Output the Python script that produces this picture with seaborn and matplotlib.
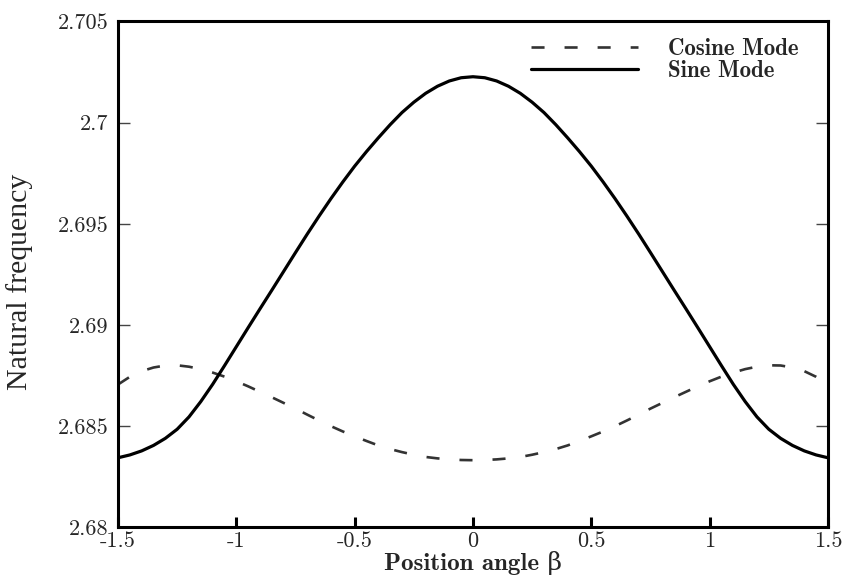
import matplotlib
matplotlib.use("Agg")
import matplotlib.pyplot as plt
import pandas as pd
import seaborn as sns
from matplotlib.font_manager import FontProperties

# Position angle samples
beta = [-1.50, -1.45, -1.40, -1.35, -1.30, -1.25, -1.20, -1.15, -1.10, -1.05,
        -1.00, -0.95, -0.90, -0.85, -0.80, -0.75, -0.70, -0.65, -0.60, -0.55,
        -0.50, -0.45, -0.40, -0.35, -0.30, -0.25, -0.20, -0.15, -0.10, -0.05,
        0.00, 0.05, 0.10, 0.15, 0.20, 0.25, 0.30, 0.35, 0.40, 0.45,
        0.50, 0.55, 0.60, 0.65, 0.70, 0.75, 0.80, 0.85, 0.90, 0.95,
        1.00, 1.05, 1.10, 1.15, 1.20, 1.25, 1.30, 1.35, 1.40, 1.45, 1.50]

# Natural frequency of the cosine mode
cosine_mode = [2.68706, 2.68744, 2.68772, 2.68790, 2.68800, 2.68801, 2.68794,
               2.68782, 2.68765, 2.68745, 2.68722, 2.68697, 2.68670, 2.68643,
               2.68615, 2.68587, 2.68557, 2.68528, 2.68500, 2.68474, 2.68450,
               2.68427, 2.68405, 2.68387, 2.68372, 2.68359, 2.68348, 2.68341,
               2.68336, 2.68333, 2.68332, 2.68333, 2.68336, 2.68341, 2.68348,
               2.68359, 2.68372, 2.68387, 2.68405, 2.68427, 2.68450, 2.68474,
               2.68500, 2.68528, 2.68557, 2.68587, 2.68615, 2.68643, 2.68670,
               2.68697, 2.68722, 2.68745, 2.68765, 2.68782, 2.68794, 2.68801,
               2.68800, 2.68790, 2.68772, 2.68744, 2.68706]

# Natural frequency of the sine mode
sine_mode = [2.68344, 2.68358, 2.68378, 2.68405, 2.68440, 2.68485, 2.68546,
             2.68622, 2.68707, 2.68799, 2.68893, 2.68987, 2.69080, 2.69172,
             2.69265, 2.69358, 2.69450, 2.69539, 2.69625, 2.69707, 2.69785,
             2.69857, 2.69925, 2.69990, 2.70050, 2.70101, 2.70145, 2.70180,
             2.70206, 2.70222, 2.70227, 2.70222, 2.70206, 2.70180, 2.70145,
             2.70101, 2.70050, 2.69990, 2.69925, 2.69857, 2.69785, 2.69707,
             2.69625, 2.69539, 2.69450, 2.69358, 2.69265, 2.69172, 2.69080,
             2.68987, 2.68893, 2.68799, 2.68707, 2.68622, 2.68546, 2.68485,
             2.68440, 2.68405, 2.68378, 2.68358, 2.68344]

xtick_values = [-1.5, -1.0, -0.5, 0.0, 0.5, 1.0, 1.5]
xtick_labels = ["-1.5", "-1", "-0.5", "0", "0.5", "1", "1.5"]
ytick_values = [2.68, 2.685, 2.69, 2.695, 2.70, 2.705]
ytick_labels = ["2.68", "2.685", "2.69", "2.695", "2.7", "2.705"]

sns.set_style("ticks")
plt.rcParams["font.family"] = ["cmr10", "DejaVu Serif"]
plt.rcParams["axes.unicode_minus"] = False
plt.rcParams["axes.formatter.use_mathtext"] = True
plt.rcParams["lines.scale_dashes"] = False

df = pd.DataFrame({"beta": beta, "cos": cosine_mode, "sin": sine_mode})

fig = plt.figure(figsize=(8.44, 5.76), dpi=100)
ax = fig.add_axes([0.1398, 0.0844, 0.8412, 0.8783])

sns.lineplot(data=df, x="beta", y="cos", ax=ax, color="#333333",
             linewidth=1.9, label="Cosine Mode")
ax.lines[-1].set_dashes((9.4, 14.4))
sns.lineplot(data=df, x="beta", y="sin", ax=ax, color="black",
             linewidth=2.3, label="Sine Mode")

ax.set_xlim(-1.5, 1.5)
ax.set_ylim(2.68, 2.705)
ax.set_xticks(xtick_values)
ax.set_xticklabels(xtick_labels)
ax.set_yticks(ytick_values)
ax.set_yticklabels(ytick_labels)

ax.tick_params(axis="x", direction="in", length=7, width=2.2, labelsize=16,
               pad=3, top=False, bottom=True, color="black")
ax.tick_params(axis="y", direction="in", length=8.6, width=1.0, labelsize=16,
               pad=7, left=True, right=True, color="#444444")

for spine in ax.spines.values():
    spine.set_visible(True)
    spine.set_linewidth(2.2)
    spine.set_color("black")

ax.set_xlabel("Position angle β", fontfamily=["cmb10", "DejaVu Serif"],
              fontsize=18)
ax.xaxis.set_label_coords(0.5, -0.046)
ax.set_ylabel("Natural frequency", fontfamily="Liberation Serif",
              fontsize=21.5)
ax.yaxis.set_label_coords(-0.12, 0.485)

ax.legend(loc="upper right", frameon=False,
          prop=FontProperties(family="cmb10", size=16.5),
          handlelength=4.7, handletextpad=1.27, labelspacing=0.0,
          borderpad=0, borderaxespad=0,
          bbox_to_anchor=(798 / 844, (576 - 38) / 576),
          bbox_transform=fig.transFigure)

fig.savefig("out.png", dpi=100)
